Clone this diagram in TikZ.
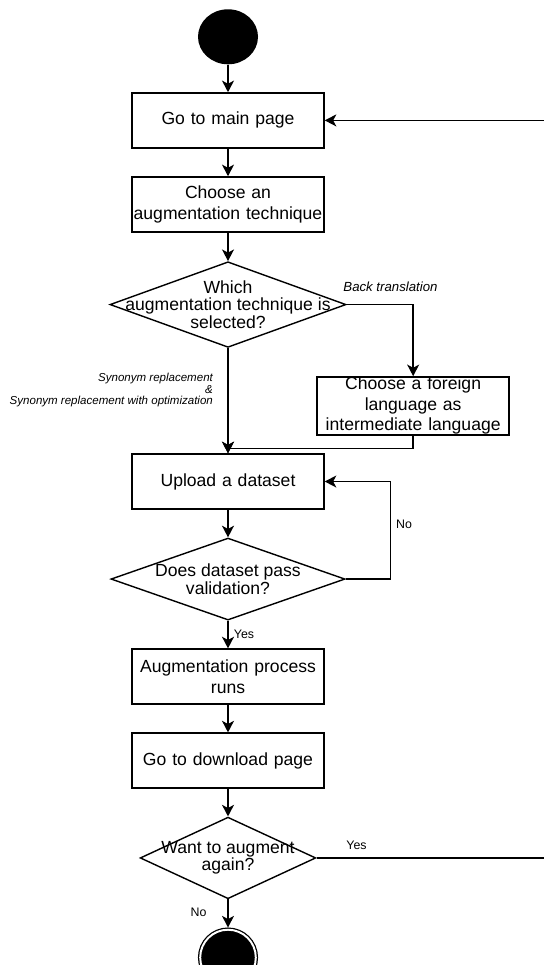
\documentclass[tikz,border=0pt]{standalone}
\usepackage{fontspec}
\setmainfont{Liberation Sans}
\usetikzlibrary{positioning,arrows.meta,shapes.geometric}

\begin{document}
\begin{tikzpicture}[
    x=0.025cm, y=0.025cm,
    node distance=0.69cm,
    box/.style     ={rectangle, draw, line width=1pt, text width=4.8cm, align=center,
                     minimum height=1.375cm, inner sep=0pt, font=\fontsize{12.5}{14.6}\selectfont},
    decision/.style={diamond, draw, line width=1pt, inner sep=0pt},
    qtext/.style   ={align=center, inner sep=0pt, font=\fontsize{12.5}{12.4}\selectfont},
    lbl/.style     ={inner sep=0pt, font=\fontsize{8.8}{10}\selectfont},
    cond/.style    ={inner sep=0pt, font=\fontsize{9.4}{11}\selectfont\itshape},
    syn/.style     ={inner sep=0pt, align=right, font=\fontsize{8.2}{8.3}\selectfont\itshape},
    arr/.style     ={-{Stealth[length=0.29cm, width=0.3cm, inset=0.08cm]}, line width=1pt}]
    \useasboundingbox (0,0) rectangle (544,-965);
    \clip (0,0) rectangle (544,-965);
    % nodes
    \node[ellipse, fill=black, minimum width=1.5cm, minimum height=1.375cm, inner sep=0pt] (start) at (228,-36.8) {};
    \node[box, below=of start]   (main)   {Go to main page};
    \node[box, below=of main]    (choose) {Choose an\\ augmentation technique};
    \node[decision, below=0.71cm of choose, minimum width=5.9cm, minimum height=2.14cm,
          label={[qtext]center:{Which\\ augmentation technique is\\ selected?}}] (which) {};
    \node[box, minimum height=1.45cm, below right=1.79cm and 1.66cm of which.east, anchor=north]
          (foreign) {Choose a foreign\\ language as\\ intermediate language};
    \node[box, below=2.63cm of which] (upload) {Upload a dataset};
    \node[decision, below=of upload, minimum width=5.85cm, minimum height=2.05cm,
          label={[qtext]center:{Does dataset pass\\ validation?}}] (valid) {};
    \node[box, below=of valid]   (runs)     {Augmentation process\\ runs};
    \node[box, below=of runs]    (download) {Go to download page};
    \node[decision, below=of download, minimum width=4.39cm, minimum height=2.04cm,
          label={[qtext]center:{Want to augment\\ again?}}] (again) {};
    \node[circle, draw, fill=black, double, double distance=1.4pt, line width=0.9pt,
          minimum size=1.39cm, outer sep=1.6pt, below=0.7cm of again] (stop) {};
    % connectors
    \draw[arr] (start) -- (main);
    \draw[arr] (main) -- (choose);
    \draw[arr] (choose) -- (which);
    \draw[arr] (which.east) -| node[cond, at start, anchor=south west, xshift=-0.1cm, yshift=0.31cm] {Back translation} (foreign);
    \draw[arr] (which) -- node[syn, pos=0.4, left=0.36cm] {Synonym replacement\\ \&\hspace*{3pt}\\ Synonym replacement with optimization} (upload);
    \draw[arr] (foreign.south) -- ++(0,-13) -| (upload.north);
    \draw[arr] (upload) -- (valid);
    \draw[arr] (valid.east) -- ++(45,0) |- node[lbl, pos=0.28, right=0.12cm] {No} (upload.east);
    \draw[arr] (valid) -- node[lbl, pos=0.5, right=0.13cm] {Yes} (runs);
    \draw[arr] (runs) -- (download);
    \draw[arr] (download) -- (again);
    \draw[arr] (again.east) -- node[lbl, pos=0.17, above=0.2cm] {Yes} ++(235,0) |- (main.east);
    \draw[arr] (again) -- node[lbl, pos=0.47, left=0.52cm] {No} (stop);
\end{tikzpicture}
\end{document}
